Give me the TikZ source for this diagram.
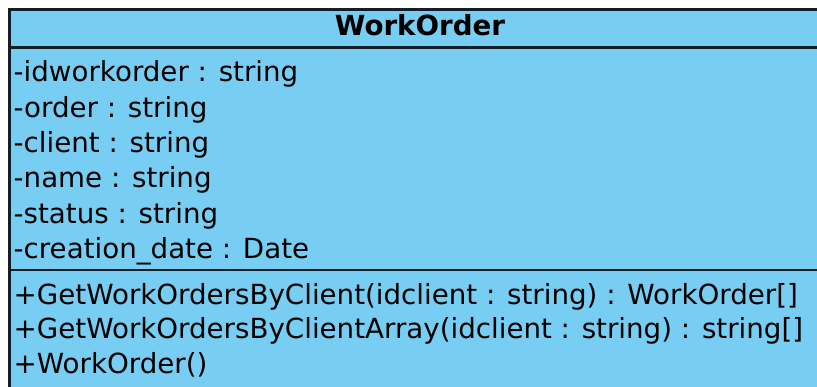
\documentclass[tikz,border=0pt]{standalone}
\usepackage{fontspec}
\setmainfont{DejaVu Sans}
\usetikzlibrary{positioning}

\definecolor{classfill}{RGB}{119,205,242}
\definecolor{classline}{RGB}{20,30,38}

\tikzset{
    member/.style={anchor=base west,inner sep=0pt,font=\fontsize{27.7}{32}\selectfont},
    classname/.style={anchor=base,inner sep=0pt,font=\fontsize{27.7}{32}\selectfont\bfseries}
}

\begin{document}
\begin{tikzpicture}[x=1pt,y=-1pt]
    % page size, the class box runs off to the right and below
    \useasboundingbox (0,0) rectangle (817,387);
    \clip (0,0) rectangle (817,387);
    % class box
    \draw[classline,fill=classfill,line width=2.4pt] (9.5,9.5) rectangle (831,420);
    % compartments
    \draw[classline,line width=2.4pt] (9.5,47.5) -- (831,47.5);
    \draw[classline,line width=2.4pt] (9.5,270) -- (831,270);

    % name
    \node[classname] (title) at (420,36) {WorkOrder};

    % attributes
    \node[member] (idwo) at (13.5,82) {-idworkorder : string};
    \node[member] (order) at (13.5,117.3) {-order : string};
    \node[member] (client) at (13.5,152.6) {-client : string};
    \node[member] (name) at (13.5,187.9) {-name : string};
    \node[member] (status) at (13.5,223.2) {-status : string};
    \node[member] (cdate) at (13.5,258.5) {-creation\_date : Date};

    % operations
    \node[member] (byclient) at (13.5,304.5) {+GetWorkOrdersByClient(idclient : string) : WorkOrder[]};
    \node[member] (byarray) at (13.5,338.8) {+GetWorkOrdersByClientArray(idclient : string) : string[]};
    \node[member] (ctor) at (13.5,373.1) {+WorkOrder()};
\end{tikzpicture}
\end{document}
